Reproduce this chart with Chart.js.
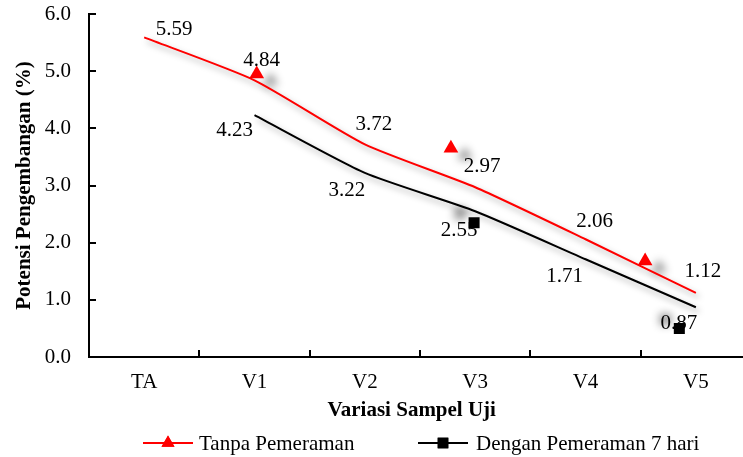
<!DOCTYPE html>
<html>
<head>
<meta charset="utf-8">
<script src="https://cdn.jsdelivr.net/npm/chart.js@4.4.0/dist/chart.umd.min.js"></script>
<style>
  html, body { margin: 0; padding: 0; background: #ffffff; }
  #wrap { width: 743px; height: 457px; position: relative; }
  #c { display: block; }
</style>
</head>
<body>
<div id="wrap"><canvas id="c" width="743" height="457"></canvas></div>
<script>
// Sample variants on the x axis
const categories = ['TA', 'V1', 'V2', 'V3', 'V4', 'V5'];
// Swelling potential (%) without curing
const tanpaValues = [5.59, 4.84, 3.72, 2.97, 2.06, 1.12];
// Swelling potential (%) with 7-day curing (starts at V1)
const denganCategories = ['V1', 'V2', 'V3', 'V4', 'V5'];
const denganValues = [4.23, 3.22, 2.55, 1.71, 0.87];
// Marker symbols as they sit on the plot (x in category units, y in %)
const tanpaMarkerX = [1.02, 2.78, 4.54];
const tanpaMarkerY = [4.95, 3.65, 1.68];
const denganMarkerX = [2.99, 4.85];
const denganMarkerY = [2.35, 0.50];
// Y axis ticks
const yTicks = [0, 1, 2, 3, 4, 5, 6];

const FONT = '"Liberation Serif", "Times New Roman", serif';
const FS = 21;
const RED = '#ff0000';
const BLACK = '#000000';

const idx = c => categories.indexOf(c);
const tanpaPoints = tanpaValues.map((v, i) => ({ x: i, y: v }));
const denganPoints = denganValues.map((v, i) => ({ x: idx(denganCategories[i]), y: v }));
const tanpaMarkers = tanpaMarkerX.map((x, i) => ({ x: x, y: tanpaMarkerY[i] }));
const denganMarkers = denganMarkerX.map((x, i) => ({ x: x, y: denganMarkerY[i] }));

// Soft drop shadow under lines and markers
const shadowPlugin = {
  id: 'shadow',
  beforeDatasetDraw(chart, args) {
    const ctx = chart.ctx;
    ctx.save();
    const ds = chart.data.datasets[args.index];
    if (ds.shadow) {
      ctx.shadowColor = ds.shadow.color;
      ctx.shadowBlur = ds.shadow.blur;
      ctx.shadowOffsetX = ds.shadow.dx;
      ctx.shadowOffsetY = ds.shadow.dy;
    }
  },
  afterDatasetDraw(chart) {
    chart.ctx.restore();
  }
};

// Inward tick marks on both axes; the x axis line runs on to the right edge
const innerTicks = {
  id: 'innerTicks',
  afterDraw(chart) {
    const { ctx, scales: { x, y }, chartArea } = chart;
    ctx.save();
    ctx.strokeStyle = BLACK;
    ctx.lineWidth = 2;
    ctx.beginPath();
    const axisY = Math.round(chartArea.bottom);
    ctx.moveTo(chartArea.left, axisY);
    ctx.lineTo(chart.width, axisY);
    yTicks.forEach(v => {
      const py = Math.round(y.getPixelForValue(v));
      ctx.moveTo(chartArea.left, py);
      ctx.lineTo(chartArea.left + 7, py);
    });
    for (let i = 0; i < categories.length; i++) {
      const px = Math.round(x.getPixelForValue(i + 0.5));
      if (px > chart.width) continue;
      ctx.moveTo(px, axisY);
      ctx.lineTo(px, axisY - 7);
    }
    ctx.stroke();
    ctx.restore();
  }
};

// Value labels next to each line point
const valueLabels = {
  id: 'valueLabels',
  afterDatasetsDraw(chart) {
    const ctx = chart.ctx;
    ctx.save();
    ctx.font = FS + 'px ' + FONT;
    ctx.fillStyle = BLACK;
    ctx.textAlign = 'center';
    ctx.textBaseline = 'middle';
    chart.data.datasets.forEach((ds, di) => {
      if (!ds.labelOffsets) return;
      const meta = chart.getDatasetMeta(di);
      meta.data.forEach((pt, i) => {
        const off = ds.labelOffsets[i];
        ctx.fillText(ds.data[i].y.toFixed(2), pt.x + off[0], pt.y + off[1]);
      });
    });
    ctx.restore();
  }
};

// Legend below the x axis title: line + marker + text
const lineLegend = {
  id: 'lineLegend',
  afterDraw(chart) {
    const ctx = chart.ctx;
    const items = [
      { text: 'Tanpa Pemeraman', color: RED, style: 'triangle', r: 7.5, x0: 143, x1: 193, tx: 199 },
      { text: 'Dengan Pemeraman 7 hari', color: BLACK, style: 'rect', r: 7.5, x0: 418, x1: 468, tx: 476 }
    ];
    const yy = 443;
    ctx.save();
    items.forEach(it => {
      ctx.strokeStyle = it.color;
      ctx.lineWidth = 2;
      ctx.beginPath();
      ctx.moveTo(it.x0, yy);
      ctx.lineTo(it.x1, yy);
      ctx.stroke();
      ctx.fillStyle = it.color;
      Chart.helpers.drawPoint(ctx, { pointStyle: it.style, radius: it.r, borderWidth: 0, rotation: 0 },
        (it.x0 + it.x1) / 2, yy);
      ctx.fill();
      ctx.fillStyle = BLACK;
      ctx.font = FS + 'px ' + FONT;
      ctx.textAlign = 'left';
      ctx.textBaseline = 'middle';
      ctx.fillText(it.text, it.tx, yy + 1);
    });
    ctx.restore();
  }
};

const lineShadow = { color: 'rgba(0,0,0,0.35)', blur: 6, dx: 3, dy: 4 };
const triangleShadow = { color: 'rgba(0,0,0,0.45)', blur: 8, dx: 14, dy: 7 };
const squareShadow = { color: 'rgba(0,0,0,0.45)', blur: 8, dx: -14, dy: -9 };

new Chart(document.getElementById('c'), {
  type: 'scatter',
  data: {
    datasets: [
      {
        label: 'Tanpa Pemeraman',
        data: tanpaPoints,
        showLine: true,
        borderColor: RED,
        borderWidth: 2,
        pointRadius: 0,
        tension: 0.2,
        shadow: lineShadow,
        labelOffsets: [[30, -8], [7, -20], [9, -20], [7, -21], [9, -18], [7, -21]]
      },
      {
        label: 'Dengan Pemeraman 7 hari',
        data: denganPoints,
        showLine: true,
        borderColor: BLACK,
        borderWidth: 2,
        pointRadius: 0,
        tension: 0.2,
        shadow: lineShadow,
        labelOffsets: [[-20, 15], [-18, 18], [-16, 19], [-21, 17], [-17, 16]]
      },
      {
        label: 'Tanpa Pemeraman marker',
        data: tanpaMarkers,
        showLine: false,
        pointStyle: 'triangle',
        pointRadius: 8.5,
        pointBackgroundColor: RED,
        pointBorderWidth: 0,
        shadow: triangleShadow
      },
      {
        label: 'Dengan Pemeraman marker',
        data: denganMarkers,
        showLine: false,
        pointStyle: 'rect',
        pointRadius: 7.8,
        pointBackgroundColor: BLACK,
        pointBorderWidth: 0,
        shadow: squareShadow
      }
    ]
  },
  options: {
    responsive: false,
    animation: false,
    events: [],
    layout: { padding: { top: 14, right: 0, bottom: 0, left: 0 } },
    plugins: {
      legend: { display: false },
      tooltip: { enabled: false }
    },
    scales: {
      x: {
        type: 'linear',
        bounds: 'data',
        min: -0.5,
        // the last category band runs past the right edge of the figure
        max: 5.35,
        afterBuildTicks: s => { s.ticks = categories.map((c, i) => ({ value: i })); },
        afterFit: s => {
          s.height = 100;
          s.paddingLeft = 0;
          s.paddingRight = 0;
        },
        grid: { display: false, drawTicks: false },
        border: { display: true, color: BLACK, width: 2 },
        ticks: {
          autoSkip: false,
          maxRotation: 0,
          padding: 13,
          color: BLACK,
          font: { family: FONT, size: FS },
          callback: v => categories[v] ?? ''
        },
        title: {
          display: true,
          text: 'Variasi Sampel Uji',
          color: BLACK,
          font: { family: FONT, size: FS, weight: 'bold' },
          padding: { top: 0, bottom: 34 }
        }
      },
      y: {
        min: 0,
        max: 6,
        afterBuildTicks: s => { s.ticks = yTicks.map(v => ({ value: v })); },
        afterFit: s => {
          s.width = 89;
          s.paddingTop = 0;
          s.paddingBottom = 0;
        },
        grid: { display: false, drawTicks: false },
        border: { display: true, color: BLACK, width: 2 },
        ticks: {
          padding: 18,
          color: BLACK,
          font: { family: FONT, size: FS },
          callback: v => v.toFixed(1)
        },
        title: {
          display: true,
          text: 'Potensi Pengembangan (%)',
          color: BLACK,
          font: { family: FONT, size: FS, weight: 'bold' },
          padding: { top: 12, bottom: 0 }
        }
      }
    }
  },
  plugins: [shadowPlugin, innerTicks, valueLabels, lineLegend]
});
</script>
</body>
</html>
